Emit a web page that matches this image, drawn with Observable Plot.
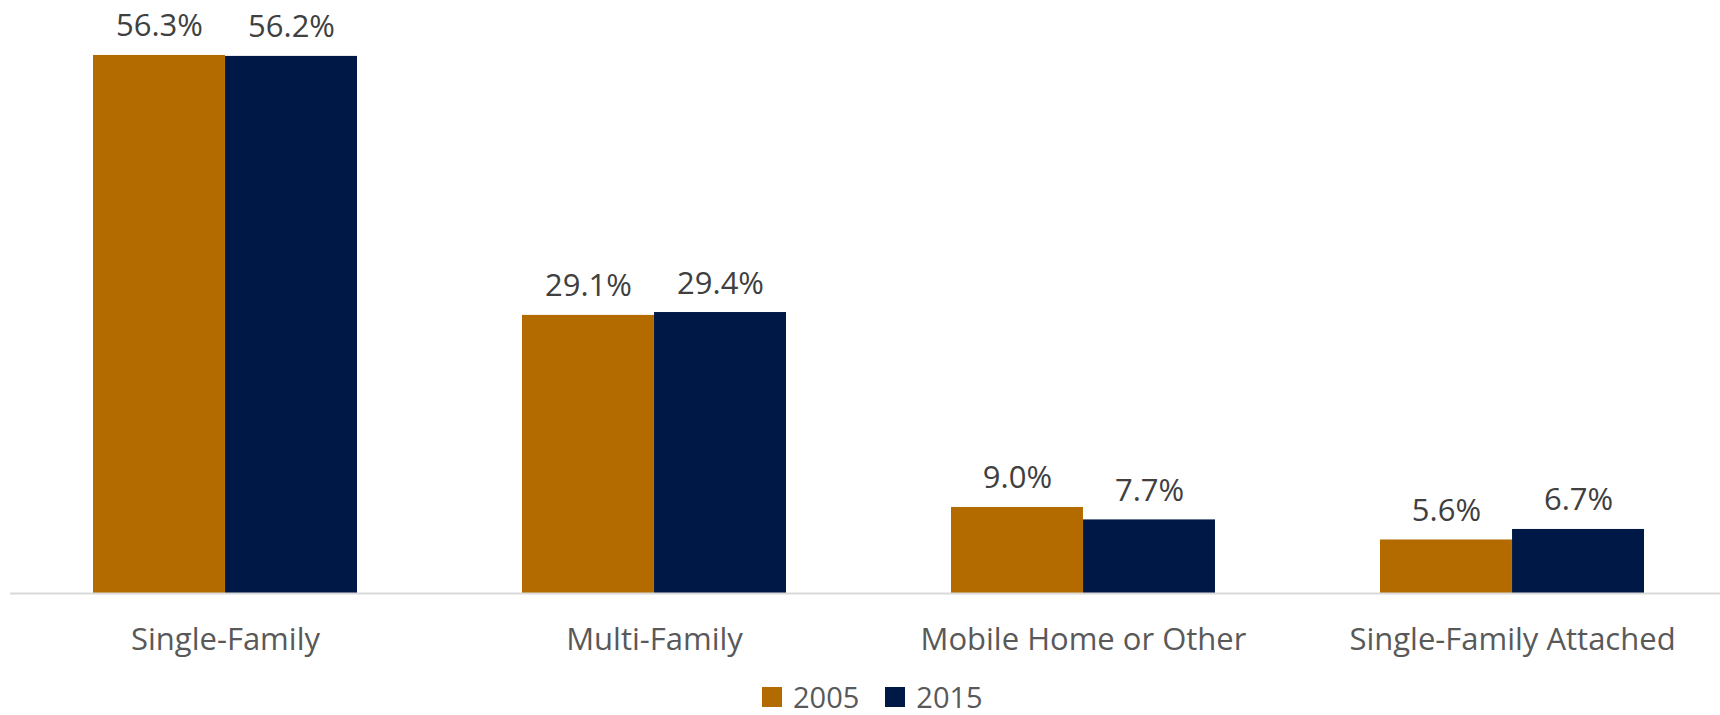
<!DOCTYPE html>
<html><head><meta charset="utf-8">
<script src="https://cdn.jsdelivr.net/npm/d3@7"></script>
<script src="https://cdn.jsdelivr.net/npm/@observablehq/plot@0.6"></script>
<style>
body{margin:0;background:#fff;font-family:"Open Sans",sans-serif;}
#chart{position:relative;width:1720px;height:715px;overflow:hidden;}
#legend{position:absolute;left:762px;top:682px;display:flex;align-items:center;font-size:29px;color:#595959;line-height:29px;height:29px;}
.item{display:flex;align-items:center;margin-right:26px;}
.sw{width:20px;height:20px;display:inline-block;margin-right:11px;}
</style></head><body>
<div id="chart"></div>
<script>
const categories = ["Single-Family","Multi-Family","Mobile Home or Other","Single-Family Attached"];
const years = ["2005","2015"];
const values2005 = [56.3, 29.1, 9.0, 5.6];
const values2015 = [56.2, 29.4, 7.7, 6.7];
const colors = ["#B36B00","#001846"];

const rows2005 = categories.map((c,i)=>({cat:c, year:"2005", v:values2005[i]}));
const rows2015 = categories.map((c,i)=>({cat:c, year:"2015", v:values2015[i]}));

const xRange = [9, 1728];
const padInner = 0.3855;
const step = (xRange[1]-xRange[0]) / (categories.length - padInner + padInner);
const half = step*(1-padInner)/2;

const plot = Plot.plot({
  width: 1720,
  height: 670,
  marginTop: 0,
  marginBottom: 77,
  marginLeft: 10,
  marginRight: 0,
  style: {fontFamily: "Open Sans", fontSize: "31px", color: "#595959", background: "#fff"},
  x: {domain: categories, range: xRange, paddingInner: padInner, paddingOuter: padInner/2, align: 0.5, tickSize: 0, tickPadding: 34, label: null},
  y: {domain: [0, 62.05], axis: null},
  marks: [
    Plot.barY(rows2005, {x: "cat", y: "v", fill: colors[0], insetRight: half}),
    Plot.barY(rows2015, {x: "cat", y: "v", fill: colors[1], insetLeft: half}),
    Plot.ruleY([0], {stroke: "#d9d9d9", strokeWidth: 2}),
    Plot.text(rows2005, {x: "cat", y: "v", text: d => d.v.toFixed(1) + "%", dx: -half/2, dy: -19, lineAnchor: "bottom", fontSize: 31, fill: "#404040"}),
    Plot.text(rows2015, {x: "cat", y: "v", text: d => d.v.toFixed(1) + "%", dx: half/2, dy: -19, lineAnchor: "bottom", fontSize: 31, fill: "#404040"})
  ]
});
const chart = document.getElementById("chart");
chart.appendChild(plot);
const legend = document.createElement("div");
legend.id = "legend";
years.forEach((y,i)=>{
  const it = document.createElement("div"); it.className="item";
  const sw = document.createElement("span"); sw.className="sw"; sw.style.background = colors[i];
  const t = document.createElement("span"); t.textContent = y;
  it.appendChild(sw); it.appendChild(t); legend.appendChild(it);
});
chart.appendChild(legend);
</script>
</body></html>
